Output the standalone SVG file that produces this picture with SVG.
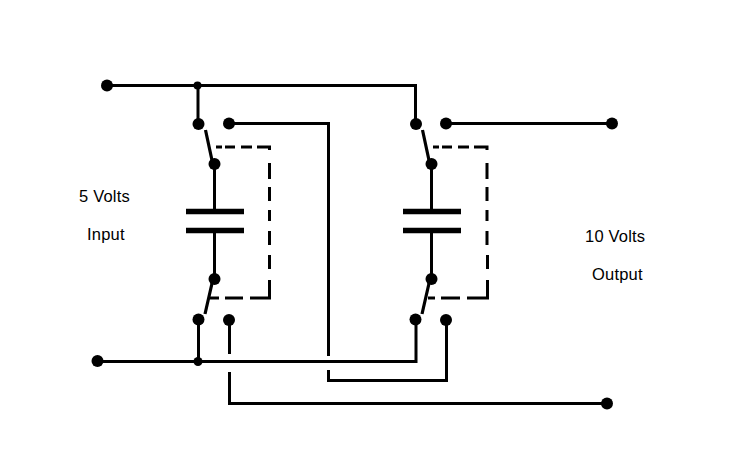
<svg xmlns="http://www.w3.org/2000/svg" width="733" height="472" viewBox="0 0 733 472">
<style>
.w{fill:none;stroke:#000;stroke-width:3}
.d{fill:none;stroke:#000;stroke-width:3}
.a{fill:none;stroke:#000;stroke-width:3.2}
.c{fill:none;stroke:#000;stroke-width:5.5}
circle{fill:#000}
text{font-family:"Liberation Sans",Arial,sans-serif;font-size:16.5px;letter-spacing:.2px;fill:#000}
</style>
<rect width="733" height="472" fill="#fff"/>
<g id="connectors">
<path class="w" d="M107 85.5H415.5V124"/>
<path class="w" d="M198 85.5V124"/>
<path class="w" d="M229 123.5H328.5V356"/>
<path class="w" d="M328.5 370V380.5H446.5V320"/>
<path class="w" d="M446 123.5H612"/>
<path class="w" d="M97 361.5H416V320"/>
<path class="w" d="M198.5 361V320"/>
<path class="w" d="M229.5 320V354"/>
<path class="w" d="M229.5 372V403.5H607"/>
<path class="w" d="M214.5 164V211M214.5 230V279"/>
<path class="w" d="M431.5 164V211M431.5 230V279"/>
<path class="a" d="M205.5 130L213 165M213 279L205 314"/>
<path class="a" d="M422.5 130L430 165M430 279L422 314"/>
<path class="d" d="M216 147H222M225 147H235M241 147H252M257 147H269.5V150M269.5 163V179M269.5 187V201M269.5 210V221M269.5 231V245M269.5 255V269M269.5 280V298H250M243 298H225M219 298H210"/>
<path class="d" d="M433 147H439M442 147H452M458 147H469M474 147H487V150M487 163V179M487 187V201M487 210V221M487 231V245M487.5 255V269M487.5 280V298H467M460 298H441M435 298H428"/>
</g>
<g id="capacitor-left"><path class="c" d="M186 211.5H244M186 230.5H244"/></g>
<g id="capacitor-right"><path class="c" d="M403 211.5H461M403 230.5H461"/></g>
<g id="nodes">
<circle cx="107" cy="85.5" r="6"/>
<circle cx="197.5" cy="85.5" r="4"/>
<circle cx="198.5" cy="124" r="6"/>
<circle cx="229" cy="123.5" r="6"/>
<circle cx="214.5" cy="164" r="6"/>
<circle cx="214.5" cy="279" r="6"/>
<circle cx="198.5" cy="319.5" r="6"/>
<circle cx="229" cy="320" r="6"/>
<circle cx="97.5" cy="361" r="6"/>
<circle cx="198" cy="361.5" r="4.5"/>
<circle cx="416" cy="124" r="6"/>
<circle cx="446" cy="123.5" r="6"/>
<circle cx="612" cy="123.5" r="6"/>
<circle cx="431.5" cy="164" r="6"/>
<circle cx="431.5" cy="279" r="6"/>
<circle cx="415.5" cy="319.5" r="6"/>
<circle cx="446" cy="320" r="6"/>
<circle cx="607" cy="403.5" r="6"/>
</g>
<g id="labels">
<text x="79" y="202">5 Volts</text>
<text x="87" y="240">Input</text>
<text x="585" y="242">10 Volts</text>
<text x="592" y="280">Output</text>
</g>
</svg>
